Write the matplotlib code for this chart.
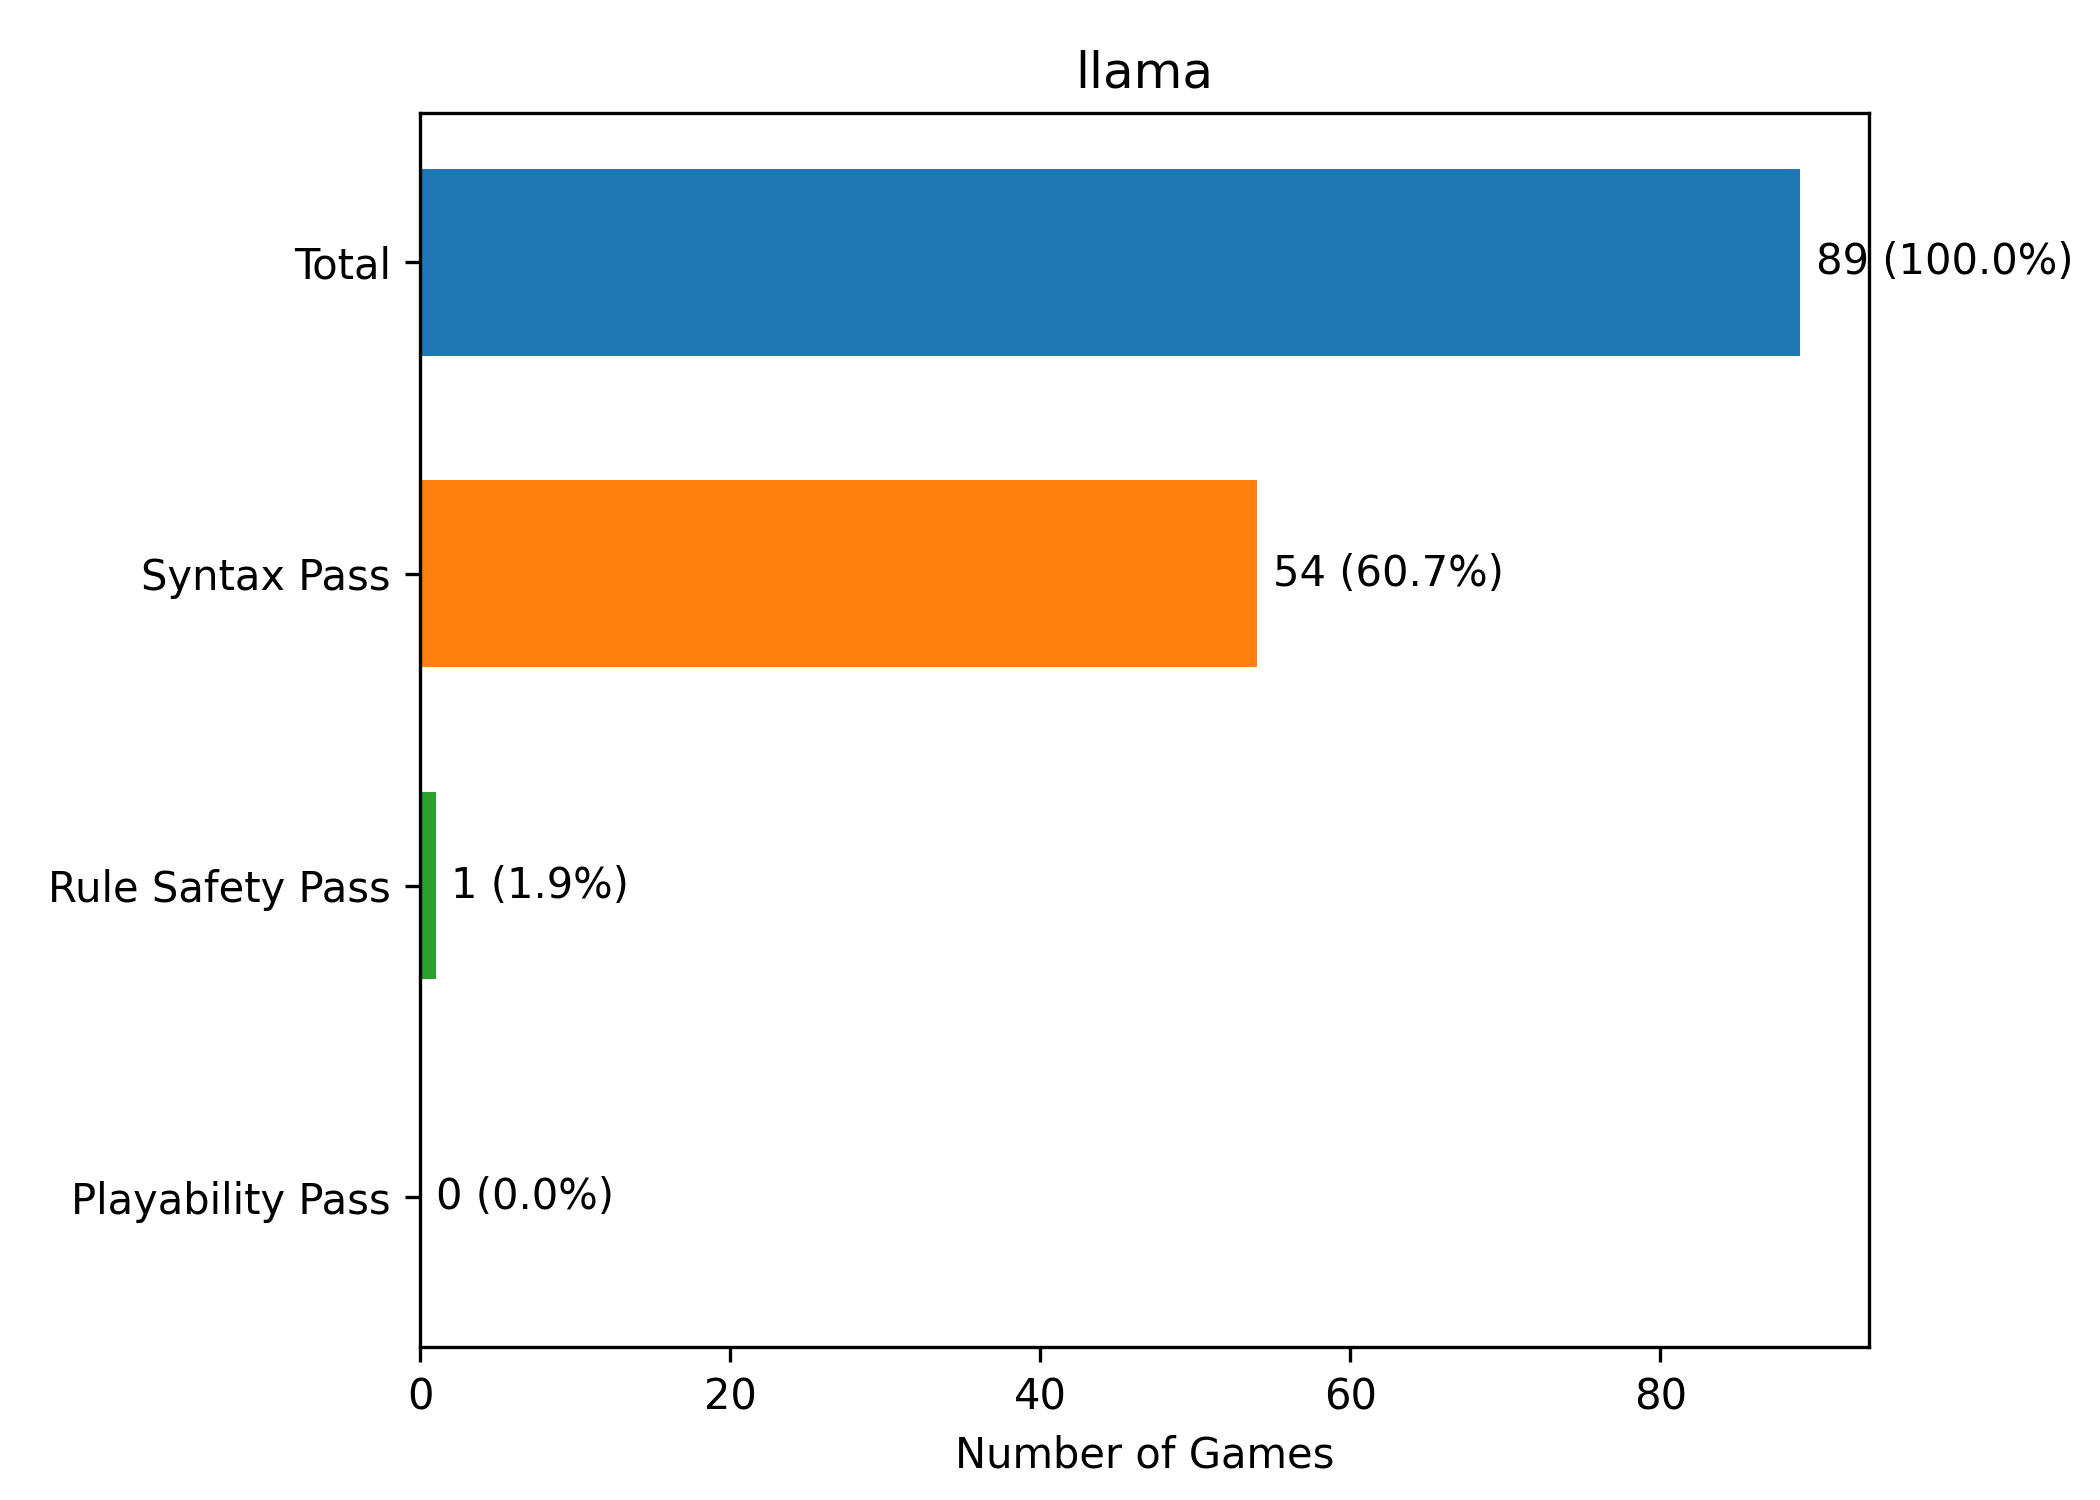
import matplotlib
matplotlib.use("Agg")
import matplotlib.pyplot as plt

stages = ["Total", "Syntax Pass", "Rule Safety Pass", "Playability Pass"]
counts = [89, 54, 1, 0]
labels = ["89 (100.0%)", "54 (60.7%)", "1 (1.9%)", "0 (0.0%)"]
colors = ["tab:blue", "tab:orange", "tab:green", "tab:red"]

fig, ax = plt.subplots(figsize=(7, 5))
ax.barh(stages, counts, color=colors, height=0.6)
ax.invert_yaxis()
for i, (c, lab) in enumerate(zip(counts, labels)):
    ax.text(c + 1, i, lab, va="center", fontsize=10)
ax.set_xlabel("Number of Games")
ax.set_title("llama")
fig.subplots_adjust(left=0.2, right=0.89, top=0.925, bottom=0.102)
fig.savefig("out.png", dpi=300)
